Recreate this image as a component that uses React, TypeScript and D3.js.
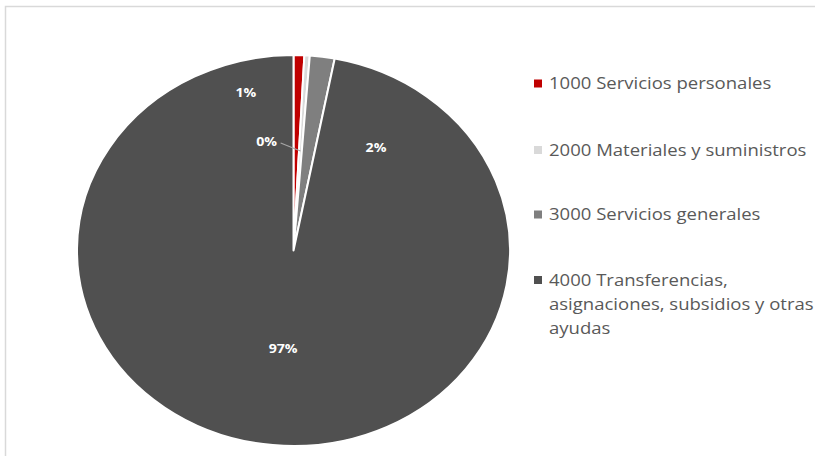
import React from "react";
import * as d3 from "d3";

const categories = [
  "1000 Servicios personales",
  "2000 Materiales y suministros",
  "3000 Servicios generales",
  "4000 Transferencias, asignaciones, subsidios y otras ayudas",
];
const values = [0.8, 0.4, 1.85, 96.95];
const pctLabels = ["1%", "0%", "2%", "97%"];
const colors = ["#C00000", "#D9D9D9", "#7F7F7F", "#505050"];
const legendLines = [
  ["1000 Servicios personales"],
  ["2000 Materiales y suministros"],
  ["3000 Servicios generales"],
  ["4000 Transferencias,", "asignaciones, subsidios y otras", "ayudas"],
];

// label layout (normalized ellipse coordinates relative to centre), null = centroid
const labelLayout: ({ nx: number; ny: number } | null)[] = [
  { nx: -0.22, ny: -0.81 },
  { nx: -0.124, ny: -0.56 },
  { nx: 0.381, ny: -0.533 },
  null,
];

const W = 815;
const H = 456;
const cx = 293.5;
const cy = 250.5;
const rx = 216.5;
const ry = 195.5;
const stretch = 1.09;

export default function App() {
  const pie = d3.pie<number>().sort(null).value((d) => d)(values);
  const arc = d3.arc<d3.PieArcDatum<number>>().innerRadius(0).outerRadius(ry);
  const sx = rx / ry;

  const labelPos = pie.map((p, i) => {
    const lay = labelLayout[i];
    if (lay) return [cx + lay.nx * rx, cy + lay.ny * ry];
    const mid = (p.startAngle + p.endAngle) / 2;
    return [cx + Math.sin(mid) * 0.5 * rx, cy - Math.cos(mid) * 0.5 * ry];
  });

  const p2 = pie[1];
  const mid2 = (p2.startAngle + p2.endAngle) / 2;
  const leaderEnd = [cx + Math.sin(mid2) * 0.51 * rx, cy - Math.cos(mid2) * 0.51 * ry];

  const legendTop = [89, 155.5, 220, 285.5];
  const lineH = 24.3;

  return (
    <svg
      width={W}
      height={H}
      style={{ position: "absolute", left: 0, top: 0, background: "#fff" }}
      fontFamily="'Open Sans', sans-serif"
    >
      <rect x={5.5} y={6.5} width={W + 10} height={H + 10} fill="#fff" stroke="#D9D9D9" strokeWidth={1.5} />
      <g transform={`translate(${cx},${cy}) scale(${sx},1)`}>
        {pie.map((p, i) => (
          <path
            key={i}
            d={arc(p) || ""}
            fill={colors[i]}
            stroke="#fff"
            strokeWidth={2}
            vectorEffect="non-scaling-stroke"
            strokeLinejoin="round"
          />
        ))}
      </g>
      <line
        x1={labelPos[1][0] + 14}
        y1={labelPos[1][1] + 2}
        x2={leaderEnd[0]}
        y2={leaderEnd[1]}
        stroke="#A6A6A6"
        strokeWidth={1.2}
      />
      {pctLabels.map((t, i) => (
        <text
          key={i}
          transform={`translate(${labelPos[i][0]},${labelPos[i][1]}) scale(${stretch},1)`}
          textAnchor="middle"
          dominantBaseline="central"
          fill="#fff"
          fontWeight="bold"
          fontSize={13}
        >
          {t}
        </text>
      ))}
      {legendLines.map((lines, i) => (
        <g key={i}>
          <rect x={534} y={legendTop[i] - 9.5} width={8} height={8} fill={colors[i]} />
          {lines.map((l, j) => (
            <text
              key={j}
              transform={`translate(549,${legendTop[i] + j * lineH}) scale(${stretch},1)`}
              fill="#595959"
              fontSize={17}
            >
              {l}
            </text>
          ))}
        </g>
      ))}
      <title>{categories.join(", ")}</title>
    </svg>
  );
}
